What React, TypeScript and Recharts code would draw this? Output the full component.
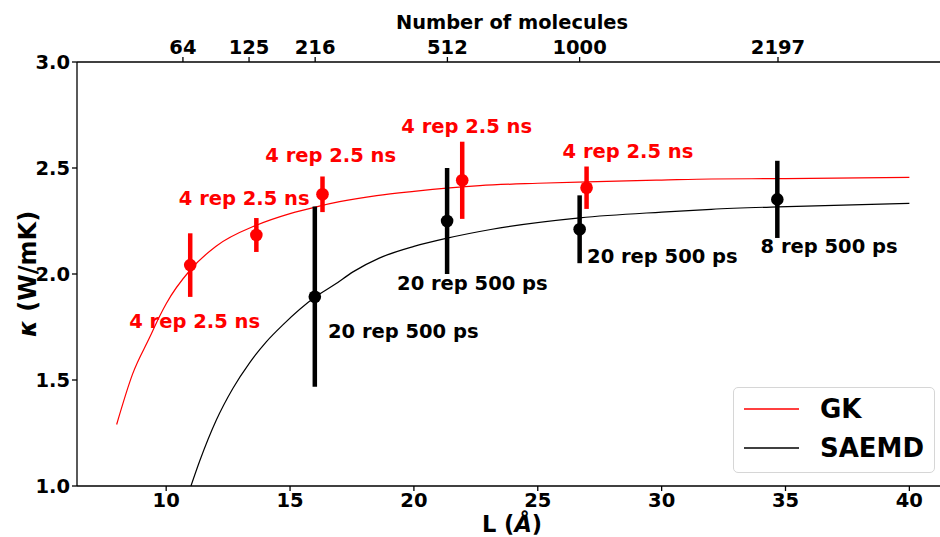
import { ComposedChart, Line, Scatter, ErrorBar, XAxis, YAxis, ReferenceDot } from 'recharts';

// fitted curves (L in Å, kappa in W/mK)
const gkCurve = [
  { L: 8.0, k: 1.29 }, { L: 8.65, k: 1.53 }, { L: 9.33, k: 1.7 }, { L: 9.73, k: 1.8 },
  { L: 10.0, k: 1.86 }, { L: 10.98, k: 2.02 }, { L: 12.0, k: 2.13 }, { L: 13.64, k: 2.23 },
  { L: 15.0, k: 2.285 }, { L: 16.06, k: 2.317 }, { L: 17.0, k: 2.341 }, { L: 18.5, k: 2.37 },
  { L: 20.0, k: 2.39 }, { L: 22.66, k: 2.417 }, { L: 25.0, k: 2.428 }, { L: 27.0, k: 2.435 },
  { L: 30.0, k: 2.443 }, { L: 32.0, k: 2.448 }, { L: 35.0, k: 2.45 }, { L: 40.0, k: 2.456 },
];

const saemdCurve = [
  { L: 11.0, k: 1.0 }, { L: 11.36, k: 1.12 }, { L: 12.02, k: 1.31 }, { L: 12.69, k: 1.46 },
  { L: 13.36, k: 1.58 }, { L: 14.04, k: 1.68 }, { L: 14.71, k: 1.76 }, { L: 16.0, k: 1.89 },
  { L: 16.8, k: 1.95 }, { L: 17.54, k: 2.01 }, { L: 18.6, k: 2.075 }, { L: 20.0, k: 2.13 },
  { L: 21.3, k: 2.168 }, { L: 23.1, k: 2.21 }, { L: 26.7, k: 2.265 }, { L: 30.0, k: 2.292 },
  { L: 32.0, k: 2.305 }, { L: 34.7, k: 2.317 }, { L: 40.0, k: 2.333 },
];

// simulation results with error bars
const gkPoints = [
  { L: 10.97, k: 2.042, err: 0.15 },
  { L: 13.64, k: 2.184, err: 0.08 },
  { L: 16.31, k: 2.376, err: 0.084 },
  { L: 21.95, k: 2.442, err: 0.182 },
  { L: 26.97, k: 2.407, err: 0.1 },
];

const saemdPoints = [
  { L: 16.0, k: 1.893, err: 0.425 },
  { L: 21.34, k: 2.25, err: 0.25 },
  { L: 26.69, k: 2.211, err: 0.16 },
  { L: 34.67, k: 2.352, err: 0.182 },
];

// annotation anchors (data coords)
const gkNotes = [
  { L: 11.15, k: 1.775, text: '4 rep 2.5 ns' },
  { L: 13.15, k: 2.357, text: '4 rep 2.5 ns' },
  { L: 16.64, k: 2.558, text: '4 rep 2.5 ns' },
  { L: 22.13, k: 2.698, text: '4 rep 2.5 ns' },
  { L: 28.64, k: 2.577, text: '4 rep 2.5 ns' },
];

const saemdNotes = [
  { L: 19.57, k: 1.728, text: '20 rep 500 ps' },
  { L: 22.36, k: 1.953, text: '20 rep 500 ps' },
  { L: 30.03, k: 2.082, text: '20 rep 500 ps' },
  { L: 36.76, k: 2.129, text: '8 rep 500 ps' },
];

const xTicks = [10, 15, 20, 25, 30, 35, 40];
const yTicks = [1.0, 1.5, 2.0, 2.5, 3.0];
const molecules = [64, 125, 216, 512, 1000, 2197];
const lattice = 2.669; // Å per molecule, L = a * N^(1/3)
const topTicks = molecules.map((n) => lattice * Math.cbrt(n));

const FONT = '"DejaVu Sans", sans-serif';
const tickStyle = { fill: '#000', fontSize: 19.5, fontWeight: 'bold', fontFamily: FONT };

const noteShape = (text: string, color: string) => (p: any) => (
  <text x={p.cx} y={p.cy} textAnchor="middle" dominantBaseline="central"
    fill={color} fontSize={19.5} fontWeight="bold" fontFamily={FONT}>{text}</text>
);

export default function App() {
  return (
    <div style={{ position: 'fixed', left: 0, top: 0, width: 940, height: 537, overflow: 'hidden', background: '#fff' }}>
      <ComposedChart width={960} height={537} margin={{ top: 32, right: 11, bottom: 21, left: 17 }}>
        <XAxis dataKey="L" type="number" domain={[6.4, 41.6]} ticks={xTicks} allowDataOverflow
          stroke="#000" strokeWidth={1.3} tickSize={5} tickMargin={2} tick={tickStyle} height={30}
          label={() => (
            <text x={512} y={524} textAnchor="middle" dominantBaseline="central"
              fontSize={22.5} fontWeight="bold" fontFamily={FONT} fill="#000">
              L (<tspan fontStyle="italic">Å</tspan>)
            </text>
          )} />
        <XAxis xAxisId="top" orientation="top" dataKey="L" type="number" domain={[6.4, 41.6]}
          ticks={topTicks} allowDataOverflow tickFormatter={(v: number) => {
            const i = topTicks.findIndex((t) => Math.abs(t - v) < 1e-6);
            return i >= 0 ? String(molecules[i]) : '';
          }}
          stroke="#000" strokeWidth={1.3} tickSize={5} tickMargin={3} tick={tickStyle} height={30}
          label={() => (
            <text x={512} y={22} textAnchor="middle" dominantBaseline="central"
              fontSize={19.4} fontWeight="bold" fontFamily={FONT} fill="#000">Number of molecules</text>
          )} />
        <YAxis dataKey="k" type="number" domain={[1, 3]} ticks={yTicks} allowDataOverflow
          tickFormatter={(v: number) => v.toFixed(1)}
          stroke="#000" strokeWidth={1.3} tickSize={5} tickMargin={2} tick={tickStyle} width={60}
          label={() => (
            <text x={28} y={274} transform="rotate(-90 28 274)" textAnchor="middle" dominantBaseline="central"
              fontSize={24} fontWeight="bold" fontFamily={FONT} fill="#000">
              <tspan fontStyle="italic">κ</tspan> (W/mK)
            </text>
          )} />

        <Line data={gkCurve} dataKey="k" type="monotone" stroke="#ff0000" strokeWidth={1.2}
          dot={false} activeDot={false} isAnimationActive={false} />
        <Line data={saemdCurve} dataKey="k" type="monotone" stroke="#000" strokeWidth={1.2}
          dot={false} activeDot={false} isAnimationActive={false} />

        <Scatter data={saemdPoints} dataKey="k" fill="#000" isAnimationActive={false}
          shape={(p: any) => <circle cx={p.cx} cy={p.cy} r={6.3} fill="#000" />}>
          <ErrorBar dataKey="err" direction="y" width={0} stroke="#000" strokeWidth={4.5} isAnimationActive={false} />
        </Scatter>
        <Scatter data={gkPoints} dataKey="k" fill="#ff0000" isAnimationActive={false}
          shape={(p: any) => <circle cx={p.cx} cy={p.cy} r={6.3} fill="#ff0000" />}>
          <ErrorBar dataKey="err" direction="y" width={0} stroke="#ff0000" strokeWidth={4.5} isAnimationActive={false} />
        </Scatter>

        {gkNotes.map((n, i) => (
          <ReferenceDot key={`g${i}`} x={n.L} y={n.k} r={0} shape={noteShape(n.text, '#ff0000')} />
        ))}
        {saemdNotes.map((n, i) => (
          <ReferenceDot key={`s${i}`} x={n.L} y={n.k} r={0} shape={noteShape(n.text, '#000')} />
        ))}
      </ComposedChart>

      <div style={{
        position: 'absolute', left: 733, top: 387, width: 200, height: 84,
        border: '1px solid #d6d6d6', borderRadius: 5, background: 'rgba(255,255,255,0.8)',
        fontFamily: FONT, fontWeight: 'bold', fontSize: 26, color: '#000',
      }}>
        {[{ name: 'GK', color: '#ff0000' }, { name: 'SAEMD', color: '#000' }].map((item, i) => (
          <div key={item.name} style={{ position: 'absolute', left: 10, top: 21 + i * 39 - 15, height: 30, display: 'flex', alignItems: 'center' }}>
            <svg width={55} height={30}><line x1={0} y1={15} x2={55} y2={15} stroke={item.color} strokeWidth={1.3} /></svg>
            <span style={{ marginLeft: 21, lineHeight: '30px' }}>{item.name}</span>
          </div>
        ))}
      </div>
    </div>
  );
}
